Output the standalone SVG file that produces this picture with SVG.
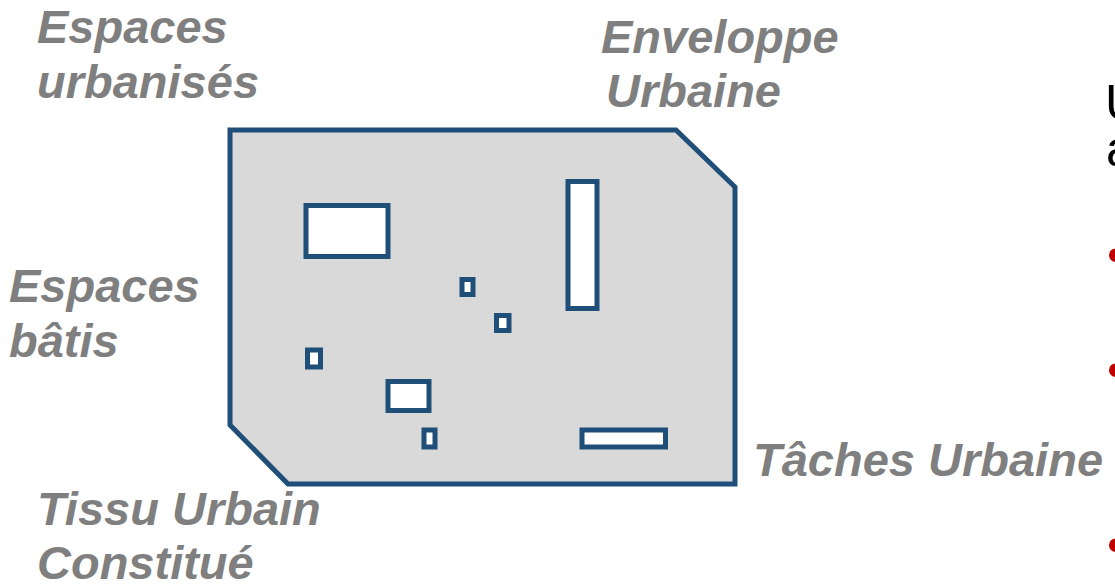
<svg xmlns="http://www.w3.org/2000/svg" width="1115" height="586" viewBox="0 0 1115 586">
<style>
.lbl{font-family:"Liberation Sans",Arial,sans-serif;font-weight:bold;font-style:italic;font-size:47px;fill:#7f7f7f}
.side{font-family:"Liberation Sans",Arial,sans-serif;font-size:50px;fill:#000}
.bul{font-family:"Liberation Sans",Arial,sans-serif;font-size:50px;fill:#c00000}
.bld{fill:#fff;stroke:#1f4e79;stroke-width:5}
</style>
<rect width="1115" height="586" fill="#fff"/>
<g id="enveloppe">
<polygon points="230,130 676,130 735,187 735,484 288,484 230,425" fill="#d9d9d9" stroke="#1f4e79" stroke-width="5"/>
</g>
<g id="batis">
<rect class="bld" x="306" y="205.5" width="82" height="51"/>
<rect class="bld" x="568" y="181.5" width="29" height="127"/>
<rect class="bld" x="462" y="279.5" width="11" height="15"/>
<rect class="bld" x="496.5" y="315.5" width="12.5" height="15"/>
<rect class="bld" x="307.5" y="350" width="13" height="17"/>
<rect class="bld" x="388" y="381.5" width="41" height="29"/>
<rect class="bld" x="424" y="430" width="11" height="17"/>
<rect class="bld" x="582" y="430" width="83.5" height="17"/>
</g>
<g id="labels">
<text class="lbl" x="37" y="43">Espaces</text>
<text class="lbl" x="37" y="98">urbanisés</text>
<text class="lbl" x="601" y="53">Enveloppe</text>
<text class="lbl" x="606" y="107">Urbaine</text>
<text class="lbl" x="9" y="302">Espaces</text>
<text class="lbl" x="9" y="357">bâtis</text>
<text class="lbl" x="753" y="476">Tâches Urbaine</text>
<text class="lbl" x="37" y="525">Tissu Urbain</text>
<text class="lbl" x="37" y="579">Constitué</text>
</g>
<g id="side">
<text class="side" x="1105" y="120">U</text>
<text class="side" x="1106" y="166">a</text>
<text class="bul" x="1107" y="272">•</text>
<text class="bul" x="1107" y="387">•</text>
<text class="bul" x="1107" y="562">•</text>
</g>
</svg>
